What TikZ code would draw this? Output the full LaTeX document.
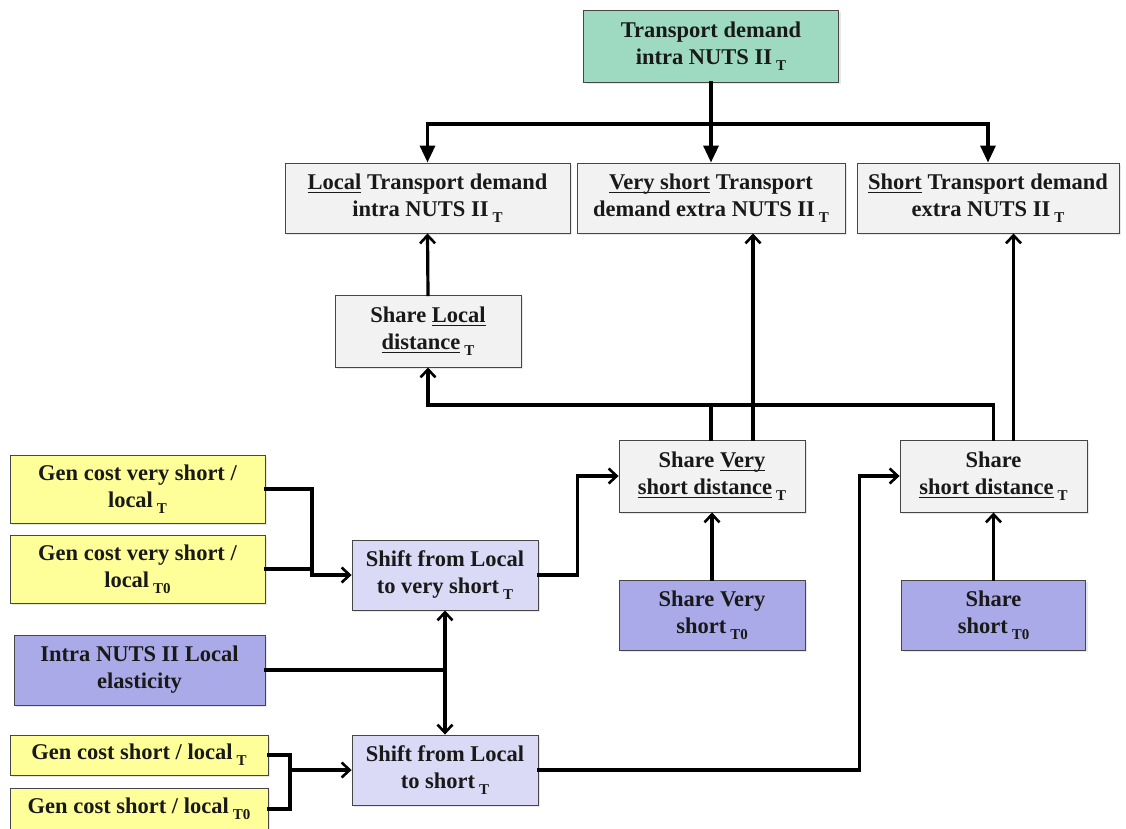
\documentclass[tikz,border=0pt]{standalone}
\usepackage{fontspec}
\setmainfont{Liberation Serif}
\usetikzlibrary{arrows.meta,shadows}

% underline with a solid bar, as in the slide
\newcommand\ulx[1]{\leavevmode\setbox0=\hbox{#1}\rlap{\rule[-4pt]{\wd0}{1.8pt}}\box0\relax}
% lowered time index (T, T0)
\newcommand\idx[1]{\hspace{4pt}\raisebox{-6pt}{\fontsize{15}{15}\selectfont #1}}

\definecolor{topgreen}{RGB}{158,218,194}
\definecolor{boxgray}{RGB}{242,242,242}
\definecolor{costyellow}{RGB}{255,255,153}
\definecolor{parpurple}{RGB}{170,170,232}
\definecolor{shiftlilac}{RGB}{218,218,246}
\definecolor{framegray}{RGB}{70,70,70}

\tikzset{
  box/.style={draw=framegray, line width=0.9pt, align=center, inner sep=1pt,
    font=\fontsize{22.5}{27}\selectfont\bfseries, text=black!90,
    drop shadow={opacity=0.18, shadow xshift=2pt, shadow yshift=-2pt}},
  demand/.style={box, fill=topgreen},
  result/.style={box, fill=boxgray},
  cost/.style={box, fill=costyellow},
  param/.style={box, fill=parpurple},
  shiftbox/.style={box, fill=shiftlilac},
  link/.style={line width=3.2pt, line cap=rect},
  tri/.style={link, -{Triangle[length=17pt,width=15pt]}},
  barb/.style={link, -{Straight Barb[length=8pt,width=15pt,line width=2.6pt]}},
  barbs/.style={link, {Straight Barb[length=8pt,width=15pt,line width=2.6pt]}-{Straight Barb[length=8pt,width=15pt,line width=2.6pt]}},
}

\begin{document}
\begin{tikzpicture}[x=1pt,y=-1pt]
\useasboundingbox (0,0) rectangle (1126,828);

% demand boxes
\node[demand, minimum width=255pt, minimum height=72pt] (top) at (711,46)
  {Transport demand\\intra NUTS II\idx{T}};
\node[result, minimum width=285pt, minimum height=70pt] (loc) at (427.5,198)
  {\ulx{Local} Transport demand\\intra NUTS II\idx{T}};
\node[result, minimum width=268pt, minimum height=70pt] (vsd) at (711,198)
  {\ulx{Very short} Transport\\demand extra NUTS II\idx{T}};
\node[result, minimum width=262pt, minimum height=70pt] (shd) at (988,198)
  {\ulx{Short} Transport demand\\extra NUTS II\idx{T}};

% modal shares
\node[result, minimum width=186pt, minimum height=72pt] (shareLoc) at (428,331)
  {Share \ulx{Local}\\\ulx{distance}\idx{T}};
\node[result, minimum width=186pt, minimum height=72pt] (shareVS) at (712,476)
  {Share \ulx{Very}\\\ulx{short distance}\idx{T}};
\node[result, minimum width=187pt, minimum height=72pt] (shareSh) at (993.5,476)
  {Share\\\ulx{short distance}\idx{T}};

% base-year shares
\node[param, minimum width=186pt, minimum height=70pt] (vsT0) at (712,615)
  {Share Very\\short\idx{T0}};
\node[param, minimum width=184pt, minimum height=70pt] (shT0) at (993.5,615)
  {Share\\short\idx{T0}};

% generalised cost inputs and elasticity
\node[cost, minimum width=255pt, minimum height=68pt] (gcvsT) at (137.5,489)
  {Gen cost very short /\\local\idx{T}};
\node[cost, minimum width=255pt, minimum height=68pt] (gcvsT0) at (137.5,569)
  {Gen cost very short /\\local\idx{T0}};
\node[param, minimum width=251pt, minimum height=70pt] (elast) at (139.5,670)
  {Intra NUTS II Local\\elasticity};
\node[cost, minimum width=258pt, minimum height=40pt] (gcsT) at (139,755)
  {Gen cost short / local\idx{T}};
\node[cost, minimum width=258pt, minimum height=42pt] (gcsT0) at (139,809)
  {Gen cost short / local\idx{T0}};

% shift nodes
\node[shiftbox, minimum width=186pt, minimum height=70pt] (shiftVS) at (445,575)
  {Shift from Local\\to very short\idx{T}};
\node[shiftbox, minimum width=186pt, minimum height=70pt] (shiftSh) at (445,770)
  {Shift from Local\\to short\idx{T}};

% split of total demand
\coordinate (bus) at (0,124);
\draw[link] (top.south) -- (top.south |- bus);
\draw[link] (loc.north |- bus) -- (shd.north |- bus);
\draw[tri] (loc.north |- bus) -- (loc.north);
\draw[tri] (top.south |- bus) -- (vsd.north);
\draw[tri] (shd.north |- bus) -- (shd.north);

% shares to demand
\draw[barb] (shareLoc.north) -- (loc.south);
\draw[barb] ([xshift=41pt]shareVS.north) -- ([xshift=41pt]shareVS.north |- vsd.south);
\draw[barb] ([xshift=20pt]shareSh.north) -- ([xshift=20pt]shareSh.north |- shd.south);

% local share as residual
\coordinate (rest) at (0,405);
\draw[barb] ([xshift=-1pt]shareVS.north) |- (shareLoc.south |- rest) -- (shareLoc.south);
\draw[link] (shareSh.north) |- ([xshift=-1pt]shareVS.north |- rest);

% base-year shares
\draw[barb] (vsT0.north) -- (shareVS.south);
\draw[barb] (shT0.north) -- (shareSh.south);

% cost ratios into shifts
\coordinate (jvs) at (312,575);
\coordinate (js) at (290,770);
\draw[link] (gcvsT.east) -| (jvs);
\draw[link] (gcvsT0.east) -| (jvs);
\draw[barb] (jvs) -- (shiftVS.west);
\draw[link] (gcsT.east) -| (js);
\draw[link] (gcsT0.east) -| (js);
\draw[barb] (js) -- (shiftSh.west);

% elasticity feeds both shifts
\draw[barbs] (shiftVS.south) -- (shiftSh.north);
\draw[link] (elast.east) -- (elast.east -| shiftVS.south);

% shifts into shares
\draw[barb] (shiftVS.east) -| ([xshift=-41pt]shareVS.west) -- (shareVS.west);
\draw[barb] (shiftSh.east) -| ([xshift=-40pt]shareSh.west) -- (shareSh.west);
\end{tikzpicture}
\end{document}
